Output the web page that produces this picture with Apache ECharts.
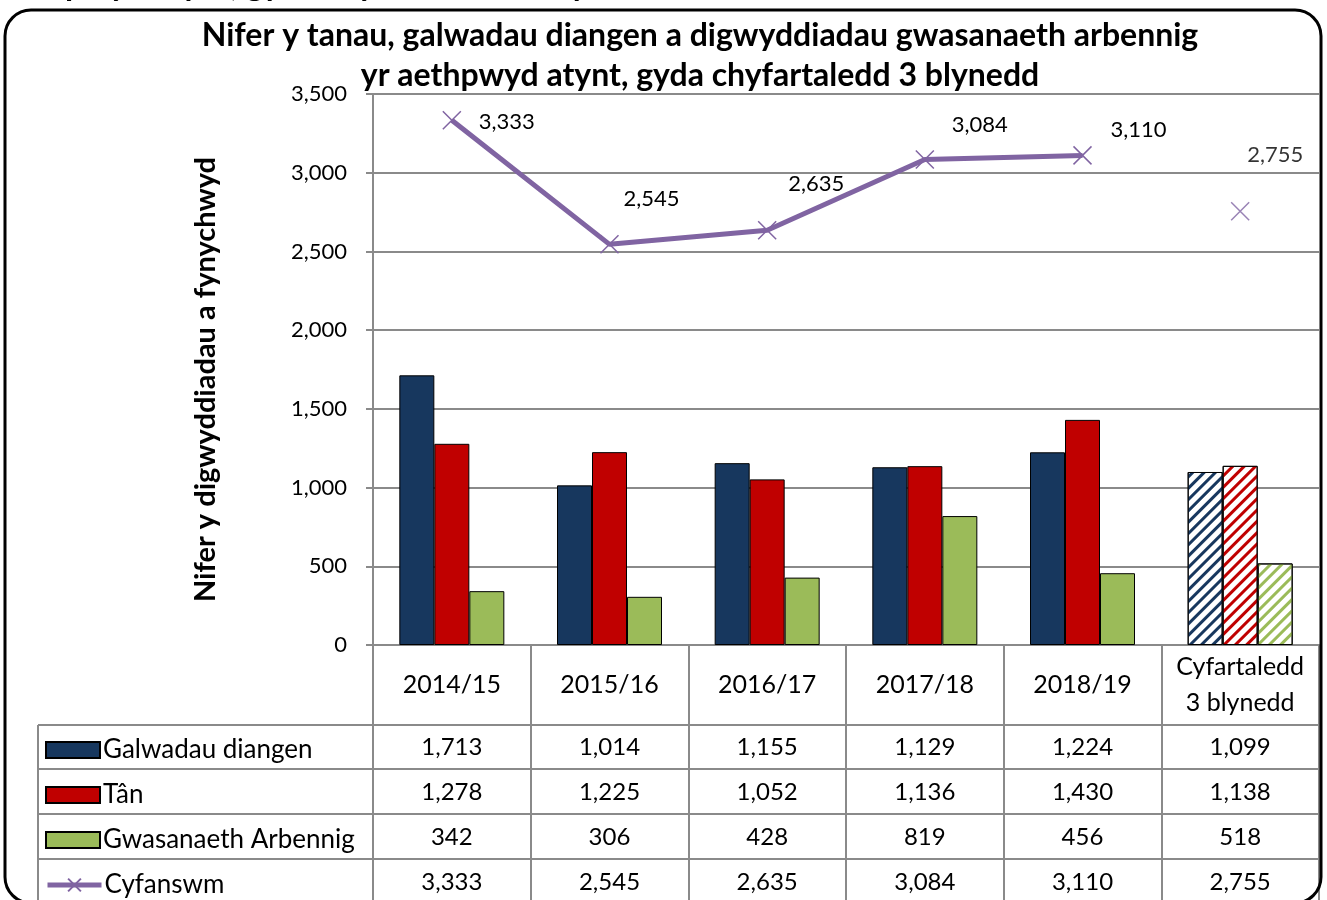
<!DOCTYPE html>
<html>
<head>
<meta charset="utf-8">
<script src="https://cdn.jsdelivr.net/npm/echarts@6/dist/echarts.min.js"></script>
<style>
  html, body { margin: 0; padding: 0; background: #fff; }
  #chart { width: 1327px; height: 900px; }
</style>
</head>
<body>
<div id="chart"></div>
<script>
  // data
  var categories = ['2014/15', '2015/16', '2016/17', '2017/18', '2018/19', 'Cyfartaledd\n3 blynedd'];
  var seriesNames = ['Galwadau diangen', 'Tân', 'Gwasanaeth Arbennig', 'Cyfanswm'];
  var galwadau = [1713, 1014, 1155, 1129, 1224, 1099];
  var tan = [1278, 1225, 1052, 1136, 1430, 1138];
  var arbennig = [342, 306, 428, 819, 456, 518];
  var cyfanswm = [3333, 2545, 2635, 3084, 3110, 2755];
  var yTicks = [0, 500, 1000, 1500, 2000, 2500, 3000, 3500];

  var FONT = 'Lato';
  var GRID = '#8a8a8a';
  var colors = ['#17375E', '#C00000', '#9BBB59', '#8064A2'];
  var X_PATH = 'path://M0,0 L10,10 M10,0 L0,10';

  function fmt(v) { return Number(v).toLocaleString('en-US'); }

  // last column is the 3 year average -> hatched bars
  function barData(values, col) {
    return values.map(function (v, i) {
      if (i < values.length - 1) return v;
      return {
        value: v,
        itemStyle: {
          color: '#fff',
          decal: {
            symbol: 'rect', symbolSize: 1,
            dashArrayX: [1, 0], dashArrayY: [3, 5],
            rotation: -Math.PI / 4, color: col
          }
        }
      };
    });
  }

  function barSeries(name, values, col) {
    return {
      name: name, type: 'bar', barWidth: 35, barGap: '0%',
      itemStyle: { color: col, borderColor: '#000', borderWidth: 1 },
      data: barData(values, col)
    };
  }

  // label placement relative to each marker (Excel labels were moved by hand)
  var labelNudge = [[55, 2], [42, -45], [49, -46], [55, -35], [56, -25], [35, -56]];
  var lineLabel = { fontFamily: FONT, fontSize: 22, color: '#000' };

  var last = cyfanswm.length - 1;
  var lineData = cyfanswm.map(function (v, i) {
    return { value: i < last ? v : '-', label: { offset: labelNudge[i] } };
  });
  var avgData = cyfanswm.map(function (v, i) {
    return { value: i === last ? v : '-', label: { offset: labelNudge[i] } };
  });

  // table rows under the plot, each one an extra category axis
  var rows = [galwadau, tan, arbennig, cyfanswm];
  var rowCentres = [102, 147, 192, 237];
  var rowAxes = rows.map(function (vals, r) {
    return {
      type: 'category', gridIndex: 0, position: 'bottom',
      data: vals.map(fmt),
      axisLine: { show: false }, axisTick: { show: false }, splitLine: { show: false },
      axisLabel: {
        margin: rowCentres[r], verticalAlign: 'middle', interval: 0,
        fontFamily: FONT, fontSize: 24, color: '#000'
      }
    };
  });

  // one legend per table row so each key sits in its own cell
  var legends = seriesNames.map(function (name, r) {
    var lg = {
      orient: 'horizontal', left: 45, top: 645 + rowCentres[r] - 10,
      itemWidth: 54, itemHeight: 16, itemGap: 0, padding: 0,
      data: [name],
      textStyle: { fontFamily: FONT, fontSize: 26, color: '#000', lineHeight: 20, padding: [0, 0, 0, -2] },
      selectedMode: false
    };
    if (r < 3) lg.icon = 'rect';
    else lg.lineStyle = { width: 5 };
    return lg;
  });

  var tableLines = [725, 769, 814, 859].map(function (y) {
    return { type: 'line', shape: { x1: 38, y1: y, x2: 1320, y2: y }, style: { stroke: GRID, lineWidth: 2 }, z: 5 };
  });
  tableLines.push({ type: 'line', shape: { x1: 38, y1: 725, x2: 38, y2: 905 }, style: { stroke: GRID, lineWidth: 2 }, z: 5 });

  var chart = echarts.init(document.getElementById('chart'));
  var option = {
    animation: false,
    title: {
      text: 'Nifer y tanau, galwadau diangen a digwyddiadau gwasanaeth arbennig\nyr aethpwyd atynt, gyda chyfartaledd 3 blynedd',
      left: 700, top: 16, padding: 0, itemGap: 0, textAlign: 'center',
      textStyle: { fontFamily: FONT, fontSize: 32, fontWeight: 'bold', color: '#000', lineHeight: 40 }
    },
    legend: legends,
    grid: { left: 373, right: 8, top: 94, bottom: 255, containLabel: false },
    xAxis: [{
      type: 'category', data: categories, position: 'bottom',
      axisLine: { show: true, lineStyle: { color: GRID, width: 2 } },
      axisTick: { show: true, length: 262, lineStyle: { color: GRID, width: 2 } },
      axisLabel: {
        margin: 40, verticalAlign: 'middle', interval: 0, lineHeight: 36,
        fontFamily: FONT, fontSize: 25, color: '#000'
      }
    }].concat(rowAxes),
    yAxis: {
      type: 'value', min: yTicks[0], max: yTicks[yTicks.length - 1], interval: 500,
      name: 'Nifer y digwyddiadau a fynychwyd', nameLocation: 'middle', nameRotate: 90, nameGap: 153,
      nameTextStyle: { fontFamily: FONT, fontSize: 29, fontWeight: 'bold', color: '#000', padding: [0, 20, 0, 0] },
      axisLine: { show: true, lineStyle: { color: GRID, width: 2 } },
      axisTick: { show: true, length: 7, lineStyle: { color: GRID, width: 2 } },
      axisLabel: { margin: 26, fontFamily: FONT, fontSize: 22, color: '#000', formatter: fmt },
      splitLine: { lineStyle: { color: GRID, width: 2 } }
    },
    series: [
      barSeries(seriesNames[0], galwadau, colors[0]),
      barSeries(seriesNames[1], tan, colors[1]),
      barSeries(seriesNames[2], arbennig, colors[2]),
      {
        name: seriesNames[3], type: 'line', data: lineData,
        symbol: X_PATH, symbolSize: 18, showSymbol: true,
        lineStyle: { color: colors[3], width: 5 },
        itemStyle: { color: colors[3], borderColor: colors[3], borderWidth: 1.5 },
        label: Object.assign({ show: true, position: 'inside', formatter: function (p) { return fmt(p.value); } }, lineLabel),
        z: 4
      },
      {
        name: 'Cyfanswm (cyfartaledd)', type: 'scatter', data: avgData,
        symbol: X_PATH, symbolSize: 18,
        itemStyle: { color: colors[3], borderColor: colors[3], borderWidth: 1.5 },
        label: Object.assign({ show: true, position: 'inside', formatter: function (p) { return fmt(p.value); } }, lineLabel),
        z: 4
      }
    ],
    graphic: tableLines.concat([
      {
        type: 'text', left: 0, top: -31, z: 10,
        style: { text: 'aethpwyd atynt, gyda chyfartaledd 3 blynedd', font: 'bold 33px Lato', fill: '#000' }
      },
      {
        type: 'rect', z: 10,
        shape: { x: 5, y: 10, width: 1316, height: 893, r: 26 },
        style: { fill: 'none', stroke: '#000', lineWidth: 3 }
      }
    ])
  };
  chart.setOption(option);
</script>
</body>
</html>
